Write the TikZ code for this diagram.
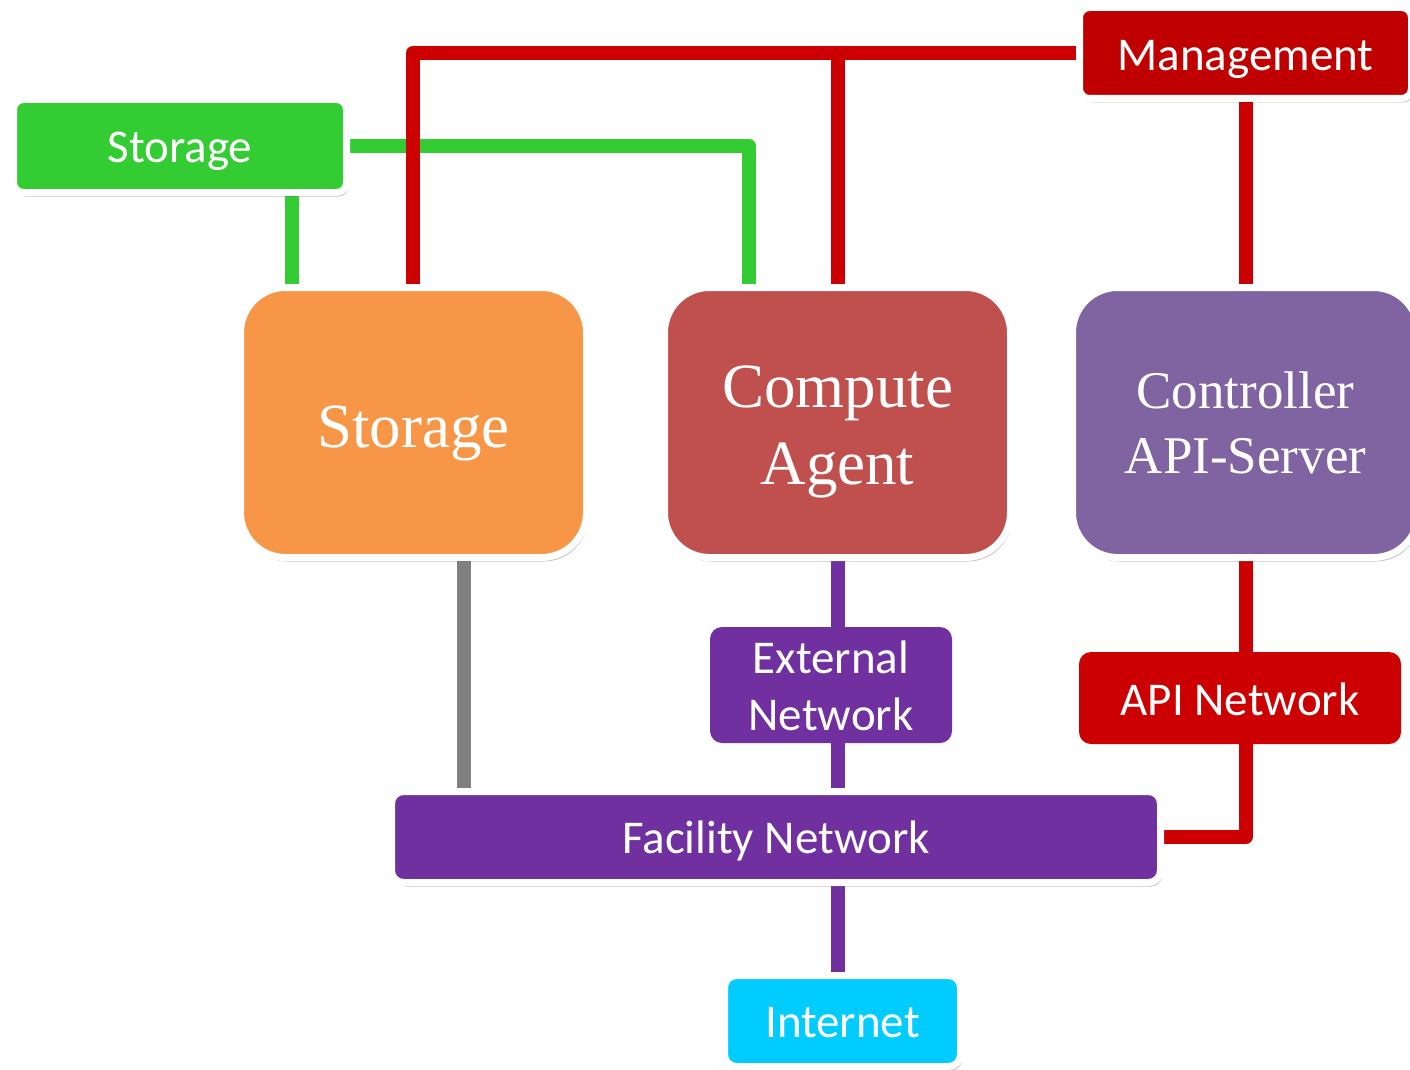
\documentclass[tikz,border=0pt]{standalone}
\usepackage{fontspec}
\setmainfont{Carlito}
\newfontfamily\tnr{Liberation Serif}
\usetikzlibrary{shadows,backgrounds,calc}
\definecolor{cgreen}{HTML}{33CC33}
\definecolor{corange}{HTML}{F79646}
\definecolor{ccomp}{HTML}{C0504D}
\definecolor{cctl}{HTML}{8064A2}
\definecolor{cpurple}{HTML}{7030A0}
\definecolor{cmgmt}{HTML}{C00000}
\definecolor{cred}{HTML}{CC0000}
\definecolor{ccyan}{HTML}{00CCFF}
\definecolor{cgray}{HTML}{808080}
\newcommand\lowered[2]{\raisebox{-#1}[\height][\depth]{\begin{tabular}{@{}c@{}}#2\end{tabular}}}
\begin{document}
\begin{tikzpicture}[x=1pt,y=-1pt,
  wbox/.style={draw=white, line width=7pt, text=white, align=center, inner sep=0pt,
    drop shadow={shadow xshift=2pt, shadow yshift=-4pt, opacity=0.25, fill=black}},
  flat/.style={text=white, align=center, inner sep=0pt},
  small/.style={font=\fontsize{47}{57}\selectfont},
  big/.style={font=\tnr\fontsize{63}{77}\selectfont, rounded corners=45pt, minimum width=346pt, minimum height=270pt},
  wire/.style={line width=14pt, line join=round}]
\useasboundingbox (0,0) rectangle (1410,1070);
\clip (0,0) rectangle (1410,1070);

\node[wbox, small, fill=cgreen, rounded corners=10pt, minimum width=333pt, minimum height=93pt] (sg) at (180,146) {\lowered{5pt}{Storage}};
\node[wbox, small, fill=cmgmt, rounded corners=10pt, minimum width=332pt, minimum height=91pt] (mg) at (1245.5,53) {\lowered{6pt}{Management}};
\node[wbox, big, fill=corange] (st) at (413.5,422.5) {\lowered{10pt}{Storage}};
\node[wbox, big, fill=ccomp] (ca) at (837.5,422.5) {\lowered{8pt}{Compute\\Agent}};
\node[wbox, big, fill=cctl, font=\tnr\fontsize{53}{65}\selectfont] (ctl) at (1245.5,422.5) {\lowered{5pt}{Controller\\API-Server}};
\node[flat, small, fill=cpurple, rounded corners=12pt, minimum width=242pt, minimum height=116pt] (ext) at (831,685) {\lowered{6pt}{External\\Network}};
\node[flat, small, fill=cred, rounded corners=12pt, minimum width=322pt, minimum height=92pt] (api) at (1240,698) {\lowered{6pt}{API Network}};
\node[wbox, small, fill=cpurple, rounded corners=12pt, minimum width=769pt, minimum height=91pt] (fac) at (776,837) {\lowered{5pt}{Facility Network}};
\node[wbox, small, fill=ccyan, rounded corners=12pt, minimum width=236pt, minimum height=91pt] (int) at (842.5,1021) {\lowered{5pt}{Internet}};

\coordinate (gx) at (292,0);
\coordinate (gx2) at (749,0);
\coordinate (rx) at (413,0);
\coordinate (px) at (464,0);

\begin{pgfonlayer}{background}
\draw[wire, cgreen] (sg.east) -| (ca.north -| gx2);
\draw[wire, cgreen] (sg.south -| gx) -- (st.north -| gx);
\draw[wire, cred] (mg.west) -| (st.north -| rx);
\draw[wire, cred] (ca.north) -- (ca.north |- mg.west);
\draw[wire, cred] (mg.south) -- (ctl.north);
\draw[wire, cred] (ctl.south) -- (ctl.south |- api.north);
\draw[wire, cred] (api.south -| ctl.south) |- (fac.east);
\draw[wire, cgray] (st.south -| px) -- (fac.north -| px);
\draw[wire, cpurple] (ca.south) -- (ca.south |- ext.north);
\draw[wire, cpurple] (ext.south -| ca.south) -- (fac.north -| ca.south);
\draw[wire, cpurple] (fac.south -| ca.south) -- (int.north -| ca.south);
\end{pgfonlayer}
\end{tikzpicture}
\end{document}
